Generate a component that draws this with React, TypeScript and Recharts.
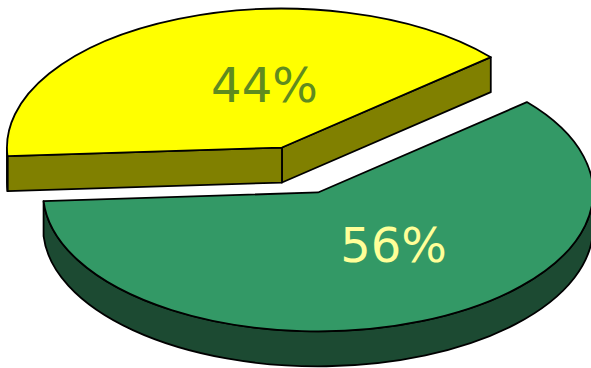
import React from 'react';
import { PieChart, Pie } from 'recharts';

const categories = ['Category 1', 'Category 2'];
const shares = [44, 56];

const topColors = ['#ffff00', '#339966'];
const sideColors = ['#808000', '#1c4a32'];
const labelColors = ['#5f8b1f', '#ffff99'];

const data = categories.map((name, i) => ({ name, value: shares[i] }));

// fake 3D look: ellipse squash, thickness, explode distance
const TILT = 0.505;
const DEPTH = 35;
const EXPLODE = 48;
const RAD = Math.PI / 180;

function edgePoint(rx: number, ry: number, deg: number) {
  const c = Math.cos(deg * RAD);
  const s = Math.sin(deg * RAD);
  const r = 1 / Math.sqrt((c / rx) ** 2 + (s / ry) ** 2);
  return { x: r * c, y: -r * s, t: Math.atan2((s * r) / ry, (c * r) / rx) };
}

function frontRanges(a: number, b: number) {
  const out: [number, number][] = [];
  for (let k = Math.floor(a / 360) - 1; k <= Math.ceil(b / 360); k++) {
    const lo = Math.max(a, 180 + 360 * k);
    const hi = Math.min(b, 360 + 360 * k);
    if (hi > lo) out.push([lo, hi]);
  }
  return out;
}

const renderSlice = (props: any) => {
  const { cx, cy, outerRadius, startAngle, endAngle, percent, index } = props;
  const rx = outerRadius;
  const ry = outerRadius * TILT;
  const a = Math.min(startAngle, endAngle);
  const b = Math.max(startAngle, endAngle);
  const p0 = edgePoint(rx, ry, a);
  const p1 = edgePoint(rx, ry, b);
  let t0 = p0.t;
  let t1 = p1.t;
  while (t1 < t0) t1 += 2 * Math.PI;
  const tm = (t0 + t1) / 2;
  const ox = cx + EXPLODE * Math.cos(tm);
  const oy = cy - EXPLODE * TILT * Math.sin(tm);

  const pt = (p: { x: number; y: number }, d = 0) => `${ox + p.x},${oy + p.y + d}`;
  const large = b - a > 180 ? 1 : 0;
  const stroke = { stroke: '#000', strokeWidth: 1.8, strokeLinejoin: 'round' as const };

  const faces: React.ReactNode[] = [];
  if (Math.cos(a * RAD) > 0) {
    faces.push(
      <path key="s" d={`M${ox},${oy}L${pt(p0)}L${pt(p0, DEPTH)}L${ox},${oy + DEPTH}Z`} fill={sideColors[index]} {...stroke} />
    );
  }
  if (Math.cos(b * RAD) < 0) {
    faces.push(
      <path key="e" d={`M${ox},${oy}L${pt(p1)}L${pt(p1, DEPTH)}L${ox},${oy + DEPTH}Z`} fill={sideColors[index]} {...stroke} />
    );
  }
  frontRanges(a, b).forEach(([lo, hi], i) => {
    const q0 = edgePoint(rx, ry, lo);
    const q1 = edgePoint(rx, ry, hi);
    const lg = hi - lo > 180 ? 1 : 0;
    faces.push(
      <path
        key={`f${i}`}
        d={`M${pt(q0)}A${rx},${ry} 0 ${lg} 0 ${pt(q1)}L${pt(q1, DEPTH)}A${rx},${ry} 0 ${lg} 1 ${pt(q0, DEPTH)}Z`}
        fill={sideColors[index]}
        {...stroke}
      />
    );
  });

  const lx = ox + 0.45 * rx * Math.cos(tm) + 29;
  const ly = oy - 0.45 * ry * Math.sin(tm) - 5;

  return (
    <g key={`slice-${index}`}>
      {faces}
      <path d={`M${ox},${oy}L${pt(p0)}A${rx},${ry} 0 ${large} 0 ${pt(p1)}Z`} fill={topColors[index]} {...stroke} />
      <text
        x={lx}
        y={ly + 17}
        textAnchor="middle"
        fill={labelColors[index]}
        fontFamily="DejaVu Sans, Verdana, sans-serif"
        fontSize={48}
      >
        {`${Math.round(percent * 100)}%`}
      </text>
    </g>
  );
};

export default function App() {
  return (
    <div style={{ position: 'absolute', left: 0, top: 0, width: 591, height: 368, background: '#fff' }}>
      <PieChart width={591} height={368} margin={{ top: 0, right: 0, bottom: 0, left: 0 }}>
        <Pie
          data={data}
          dataKey="value"
          nameKey="name"
          cx={300}
          cy={170}
          outerRadius={275}
          startAngle={23.4}
          endAngle={383.4}
          fill="none"
          stroke="none"
          labelLine={false}
          label={renderSlice}
          isAnimationActive={false}
        />
      </PieChart>
    </div>
  );
}
